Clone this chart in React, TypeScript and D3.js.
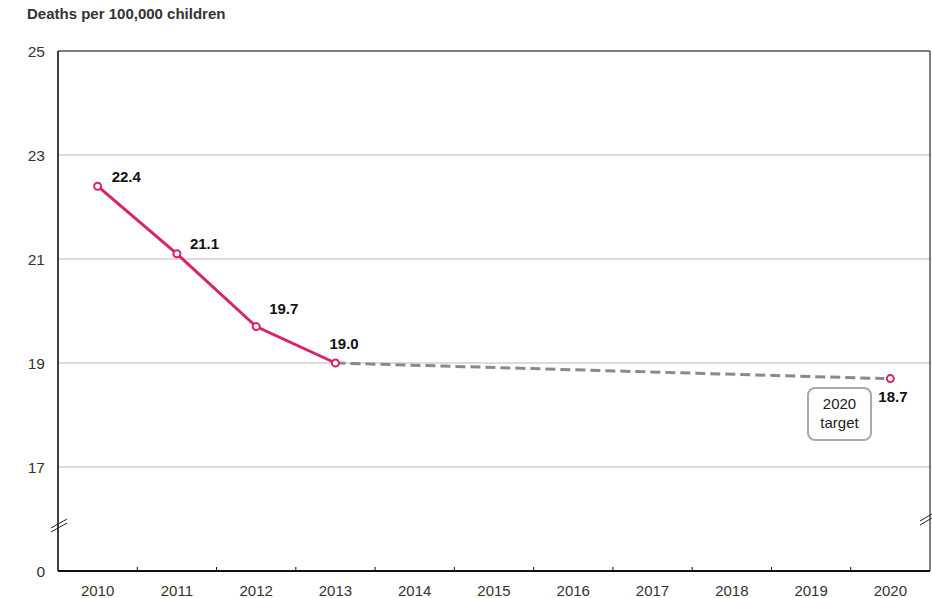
import React from "react";
import * as d3 from "d3";

const years = ["2010", "2011", "2012", "2013", "2014", "2015", "2016", "2017", "2018", "2019", "2020"];
const actualYears = ["2010", "2011", "2012", "2013"];
const actualValues = [22.4, 21.1, 19.7, 19.0];
const targetYear = "2020";
const targetValue = 18.7;
const yTickValues = [17, 19, 21, 23, 25];
const title = "Deaths per 100,000 children";
const targetLabel = ["2020", "target"];

const W = 932;
const H = 598;
const M = { left: 58, right: 930, top: 51, bottom: 571 };
const PINK = "#d9226f";
const FONT = "Arial, 'Liberation Sans', Helvetica, sans-serif";

export default function App() {
  const x = d3.scaleBand<string>().domain(years).range([M.left, M.right]).padding(0);
  const y = d3.scaleLinear().domain([15, 25]).range([M.bottom, M.top]);
  const cx = (yr: string) => (x(yr) as number) + x.bandwidth() / 2;

  const line = d3
    .line<number>()
    .x((_, i) => cx(actualYears[i]))
    .y((d) => y(d));

  const lastYear = actualYears[actualYears.length - 1];
  const lastVal = actualValues[actualValues.length - 1];

  const labelOffsets = [
    { dx: 14, dy: -4 },
    { dx: 13, dy: -4.5 },
    { dx: 13, dy: -13 },
    { dx: -6, dy: -14.5 },
  ];

  const tx = cx(targetYear);
  const ty = y(targetValue);

  return (
    <svg
      width={W}
      height={H}
      style={{ position: "absolute", left: 0, top: 0, background: "#fff" }}
      fontFamily={FONT}
    >
      <text x={27} y={19} fontSize={15} fontWeight="bold" fill="#333">
        {title}
      </text>

      {/* gridlines */}
      {yTickValues
        .filter((v) => v !== 25)
        .map((v) => (
          <line key={v} x1={M.left} x2={M.right} y1={y(v)} y2={y(v)} stroke="#b8b8b8" strokeWidth={1} />
        ))}

      {/* frame */}
      <line x1={M.left} x2={M.right} y1={M.top} y2={M.top} stroke="#000" strokeWidth={1} />
      <line x1={M.right} x2={M.right} y1={M.top} y2={M.bottom} stroke="#000" strokeWidth={1} />
      <line x1={M.left} x2={M.left} y1={M.top} y2={M.bottom} stroke="#000" strokeWidth={1.5} />
      <line x1={M.left} x2={M.right} y1={M.bottom} y2={M.bottom} stroke="#111" strokeWidth={2.2} />

      {/* y tick labels */}
      {yTickValues.map((v) => (
        <text key={v} x={45} y={y(v) + 5.5} fontSize={15.5} textAnchor="end" fill="#333">
          {v}
        </text>
      ))}
      <text x={45} y={M.bottom + 5.5} fontSize={15.5} textAnchor="end" fill="#333">
        0
      </text>

      {/* axis breaks */}
      {[0, 4].map((o) => (
        <line key={"l" + o} x1={51} y1={530 + o - 2} x2={67} y2={521 + o - 2} stroke="#222" strokeWidth={1} />
      ))}
      {[0, 4].map((o) => (
        <line key={"r" + o} x1={920} y1={523 + o - 2} x2={932} y2={516 + o - 2} stroke="#222" strokeWidth={1} />
      ))}

      {/* x ticks */}
      {years.slice(1).map((yr) => (
        <line key={yr} x1={x(yr) as number} x2={x(yr) as number} y1={M.bottom - 4} y2={M.bottom} stroke="#111" strokeWidth={1} />
      ))}
      {years.map((yr) => (
        <text key={yr} x={cx(yr)} y={596} fontSize={15} textAnchor="middle" fill="#333">
          {yr}
        </text>
      ))}

      {/* dashed projection */}
      <line
        x1={cx(lastYear)}
        y1={y(lastVal)}
        x2={tx - 6}
        y2={ty}
        stroke="#8a8a8a"
        strokeWidth={3}
        strokeDasharray="10 5"
      />

      {/* actual line */}
      <path d={line(actualValues) || ""} fill="none" stroke={PINK} strokeWidth={3} />
      {actualValues.map((v, i) => (
        <circle key={i} cx={cx(actualYears[i])} cy={y(v)} r={3.5} fill="#fff" stroke={PINK} strokeWidth={2} />
      ))}
      {actualValues.map((v, i) => (
        <text
          key={"t" + i}
          x={cx(actualYears[i]) + labelOffsets[i].dx}
          y={y(v) + labelOffsets[i].dy}
          fontSize={15}
          fontWeight="bold"
          fill="#111"
        >
          {v.toFixed(1)}
        </text>
      ))}

      {/* target point */}
      <circle cx={tx} cy={ty} r={3.5} fill="#fff" stroke={PINK} strokeWidth={2} />
      <text x={tx - 12} y={ty + 23} fontSize={15} fontWeight="bold" fill="#111">
        {targetValue.toFixed(1)}
      </text>
      <rect x={808} y={388} width={63} height={52} rx={7} ry={7} fill="#fff" stroke="#aaa" strokeWidth={2} />
      {targetLabel.map((t, i) => (
        <text key={t} x={839.5} y={409 + i * 19} fontSize={15} textAnchor="middle" fill="#222">
          {t}
        </text>
      ))}
    </svg>
  );
}
